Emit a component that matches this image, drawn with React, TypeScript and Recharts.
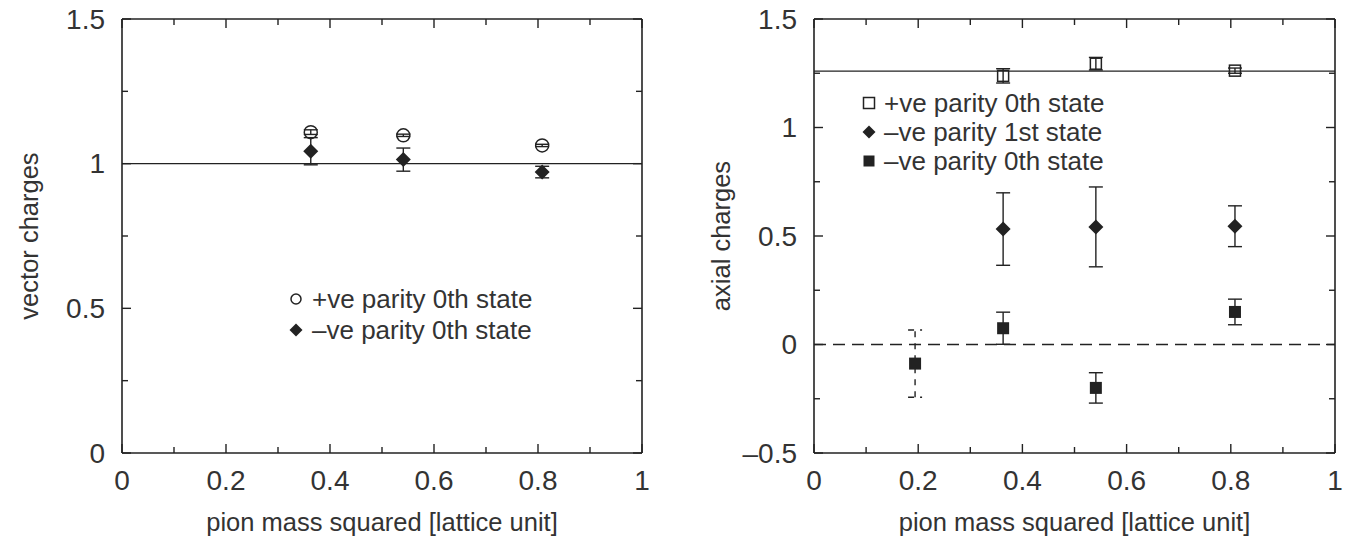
import React from 'react';
import {
  ScatterChart,
  Scatter,
  XAxis,
  YAxis,
  ErrorBar,
  ReferenceLine,
  Legend,
  Label,
} from 'recharts';

const FONT = '"Liberation Sans", Arial, Helvetica, sans-serif';
const INK = '#222';
const TEXT = '#333';

// shared x axis
const xTicks = [0, 0.1, 0.2, 0.3, 0.4, 0.5, 0.6, 0.7, 0.8, 0.9, 1];
const yTicksVector = [0, 0.25, 0.5, 0.75, 1, 1.25, 1.5];
const yTicksAxial = [-0.5, -0.25, 0, 0.25, 0.5, 0.75, 1, 1.25, 1.5];

// left panel: vector charges
const vecPosX = [0.363, 0.541, 0.808];
const vecPosY = [1.109, 1.098, 1.063];
const vecPosErr = [0.008, 0.004, 0.004];
const vecNegX = [0.363, 0.541, 0.808];
const vecNegY = [1.043, 1.014, 0.971];
const vecNegErr = [0.047, 0.04, 0.02];
const vectorRef = 1;

// right panel: axial charges
const axPosX = [0.363, 0.541, 0.808];
const axPosY = [1.238, 1.294, 1.262];
const axPosErr = [0.033, 0.029, 0.012];
const axNeg1X = [0.363, 0.541, 0.808];
const axNeg1Y = [0.532, 0.542, 0.545];
const axNeg1Err = [0.167, 0.184, 0.094];
// first point of the -ve 0th state has a dashed error bar
const axNeg0DashX = [0.194];
const axNeg0DashY = [-0.088];
const axNeg0DashErr = [0.155];
const axNeg0X = [0.363, 0.541, 0.808];
const axNeg0Y = [0.075, -0.2, 0.15];
const axNeg0Err = [0.074, 0.07, 0.059];
const axialRef = 1.26;
const axialZero = 0;

const vectorLegend = [
  { label: '+ve parity 0th state', symbol: 'circle' },
  { label: '–ve parity 0th state', symbol: 'diamond' },
];
const axialLegend = [
  { label: '+ve parity 0th state', symbol: 'openSquare' },
  { label: '–ve parity 1st state', symbol: 'diamond' },
  { label: '–ve parity 0th state', symbol: 'square' },
];

const toPoints = (xs: number[], ys: number[], errs: number[]) =>
  xs.map((x, i) => ({ x, y: ys[i], err: errs[i] }));

const fmt = (v: number) => (v < 0 ? '–' + Math.abs(v) : String(v));

const Symbol = ({ kind, cx, cy, small = false }: any) => {
  if (kind === 'circle') {
    return <circle cx={cx} cy={cy} r={small ? 5 : 6.5} fill="none" stroke={INK} strokeWidth={1.5} />;
  }
  if (kind === 'diamond') {
    const s = small ? 6.5 : 7.5;
    return (
      <polygon
        points={`${cx},${cy - s} ${cx + s},${cy} ${cx},${cy + s} ${cx - s},${cy}`}
        fill={INK}
      />
    );
  }
  if (kind === 'openSquare') {
    const h = 5.5;
    return <rect x={cx - h} y={cy - h} width={2 * h} height={2 * h} fill="none" stroke={INK} strokeWidth={1.5} />;
  }
  const h = small ? 5.5 : 6;
  return <rect x={cx - h} y={cy - h} width={2 * h} height={2 * h} fill={INK} />;
};

const shapeOf = (kind: string) => (props: any) => <Symbol kind={kind} cx={props.cx} cy={props.cy} />;

const makeXTick = (plotTop: number) => (props: any) => {
  const { x, y, payload } = props;
  const v = payload.value;
  const major = Math.abs(v * 5 - Math.round(v * 5)) < 1e-6;
  const len = major ? 9 : 6;
  return (
    <g>
      <line x1={x} y1={y} x2={x} y2={y - len} stroke={INK} strokeWidth={1.4} />
      <line x1={x} y1={plotTop} x2={x} y2={plotTop + len} stroke={INK} strokeWidth={1.4} />
      {major && (
        <text x={x} y={y + 27} textAnchor="middle" dominantBaseline="central" fontSize={28} fontFamily={FONT} fill={TEXT}>
          {fmt(v)}
        </text>
      )}
    </g>
  );
};

const makeYTick = (plotRight: number) => (props: any) => {
  const { x, y, payload } = props;
  const v = payload.value;
  const major = Math.abs(v * 2 - Math.round(v * 2)) < 1e-6;
  const len = major ? 9 : 6;
  return (
    <g>
      <line x1={x} y1={y} x2={x + len} y2={y} stroke={INK} strokeWidth={1.4} />
      <line x1={plotRight} y1={y} x2={plotRight - len} y2={y} stroke={INK} strokeWidth={1.4} />
      {major && (
        <text x={x - 17} y={y} textAnchor="end" dominantBaseline="central" fontSize={28} fontFamily={FONT} fill={TEXT}>
          {fmt(v)}
        </text>
      )}
    </g>
  );
};

const xTitle = (text: string) => (props: any) => {
  const vb = props.viewBox;
  return (
    <text x={vb.x + vb.width / 2} y={vb.y + 69} textAnchor="middle" dominantBaseline="central" fontSize={25.5} fontFamily={FONT} fill={TEXT}>
      {text}
    </text>
  );
};

const yTitle = (text: string) => (props: any) => {
  const vb = props.viewBox;
  const cx = vb.x + vb.width - 93;
  const cy = vb.y + vb.height / 2;
  return (
    <text x={cx} y={cy} transform={`rotate(-90, ${cx}, ${cy})`} textAnchor="middle" dominantBaseline="central" fontSize={25.5} fontFamily={FONT} fill={TEXT}>
      {text}
    </text>
  );
};

const LegendBox = ({ items, rowH, gap }: any) => (
  <div style={{ fontFamily: FONT, fontSize: 26, color: TEXT, whiteSpace: 'nowrap' }}>
    {items.map((it: any) => (
      <div key={it.label} style={{ display: 'flex', alignItems: 'center', height: rowH }}>
        <svg width={20} height={20} style={{ marginRight: gap, flex: 'none' }}>
          <Symbol kind={it.symbol} cx={10} cy={10} small />
        </svg>
        <span style={{ lineHeight: 1 }}>{it.label}</span>
      </div>
    ))}
  </div>
);

const PLOT_TOP = 19;
const AXIS_W = 60;
const AXIS_H = 60;

export default function App() {
  const leftW = 681;
  const rightW = 682;
  const leftMargin = { top: PLOT_TOP, right: 39, bottom: 25, left: 122 - AXIS_W };
  const rightMargin = { top: PLOT_TOP, right: 28, bottom: 25, left: 133 - AXIS_W };

  return (
    <div style={{ position: 'absolute', left: 0, top: 0, width: 1363, height: 538, background: '#fff' }}>
      <div style={{ position: 'absolute', left: 0, top: 0 }}>
        <ScatterChart width={leftW} height={538} margin={leftMargin}>
          <XAxis
            type="number"
            dataKey="x"
            domain={[0, 1]}
            ticks={xTicks}
            interval={0}
            allowDataOverflow
            height={AXIS_H}
            tickSize={0}
            tickMargin={0}
            tickLine={false}
            axisLine={{ stroke: INK, strokeWidth: 1.6 }}
            tick={makeXTick(PLOT_TOP)}
          >
            <Label content={xTitle('pion mass squared [lattice unit]')} />
          </XAxis>
          <YAxis
            type="number"
            dataKey="y"
            domain={[0, 1.5]}
            ticks={yTicksVector}
            interval={0}
            allowDataOverflow
            width={AXIS_W}
            tickSize={0}
            tickMargin={0}
            tickLine={false}
            axisLine={{ stroke: INK, strokeWidth: 1.6 }}
            tick={makeYTick(leftW - leftMargin.right)}
          >
            <Label content={yTitle('vector charges')} />
          </YAxis>
          <ReferenceLine y={1.5} stroke={INK} strokeWidth={1.6} />
          <ReferenceLine x={1} stroke={INK} strokeWidth={1.6} />
          <ReferenceLine y={vectorRef} stroke={INK} strokeWidth={1.4} />
          <Scatter name="+ve parity 0th state" data={toPoints(vecPosX, vecPosY, vecPosErr)} shape={shapeOf('circle')} isAnimationActive={false}>
            <ErrorBar dataKey="err" direction="y" width={7} stroke={INK} strokeWidth={1.4} />
          </Scatter>
          <Scatter name="–ve parity 0th state" data={toPoints(vecNegX, vecNegY, vecNegErr)} shape={shapeOf('diamond')} isAnimationActive={false}>
            <ErrorBar dataKey="err" direction="y" width={7} stroke={INK} strokeWidth={1.4} />
          </Scatter>
          <Legend
            layout="vertical"
            align="center"
            verticalAlign="middle"
            wrapperStyle={{ left: 286, top: 283.5, width: 320 }}
            content={() => <LegendBox items={vectorLegend} rowH={31} gap={6} />}
          />
        </ScatterChart>
      </div>
      <div style={{ position: 'absolute', left: leftW, top: 0 }}>
        <ScatterChart width={rightW} height={538} margin={rightMargin}>
          <XAxis
            type="number"
            dataKey="x"
            domain={[0, 1]}
            ticks={xTicks}
            interval={0}
            allowDataOverflow
            height={AXIS_H}
            tickSize={0}
            tickMargin={0}
            tickLine={false}
            axisLine={{ stroke: INK, strokeWidth: 1.6 }}
            tick={makeXTick(PLOT_TOP)}
          >
            <Label content={xTitle('pion mass squared [lattice unit]')} />
          </XAxis>
          <YAxis
            type="number"
            dataKey="y"
            domain={[-0.5, 1.5]}
            ticks={yTicksAxial}
            interval={0}
            allowDataOverflow
            width={AXIS_W}
            tickSize={0}
            tickMargin={0}
            tickLine={false}
            axisLine={{ stroke: INK, strokeWidth: 1.6 }}
            tick={makeYTick(rightW - rightMargin.right)}
          >
            <Label content={yTitle('axial charges')} />
          </YAxis>
          <ReferenceLine y={1.5} stroke={INK} strokeWidth={1.6} />
          <ReferenceLine x={1} stroke={INK} strokeWidth={1.6} />
          <ReferenceLine y={axialRef} stroke={INK} strokeWidth={1.4} />
          <ReferenceLine y={axialZero} stroke={INK} strokeWidth={1.4} strokeDasharray="12 7" />
          <Scatter name="+ve parity 0th state" data={toPoints(axPosX, axPosY, axPosErr)} shape={shapeOf('openSquare')} isAnimationActive={false}>
            <ErrorBar dataKey="err" direction="y" width={7} stroke={INK} strokeWidth={1.4} />
          </Scatter>
          <Scatter name="–ve parity 1st state" data={toPoints(axNeg1X, axNeg1Y, axNeg1Err)} shape={shapeOf('diamond')} isAnimationActive={false}>
            <ErrorBar dataKey="err" direction="y" width={7} stroke={INK} strokeWidth={1.4} />
          </Scatter>
          <Scatter name="–ve parity 0th state" data={toPoints(axNeg0X, axNeg0Y, axNeg0Err)} shape={shapeOf('square')} isAnimationActive={false}>
            <ErrorBar dataKey="err" direction="y" width={7} stroke={INK} strokeWidth={1.4} />
          </Scatter>
          <Scatter name="–ve parity 0th state (light)" data={toPoints(axNeg0DashX, axNeg0DashY, axNeg0DashErr)} shape={shapeOf('square')} isAnimationActive={false}>
            <ErrorBar dataKey="err" direction="y" width={7} stroke={INK} strokeWidth={1.4} strokeDasharray="6 6" />
          </Scatter>
          <Legend
            layout="vertical"
            align="center"
            verticalAlign="middle"
            wrapperStyle={{ left: 178, top: 88.5, width: 320 }}
            content={() => <LegendBox items={axialLegend} rowH={29} gap={5} />}
          />
        </ScatterChart>
      </div>
    </div>
  );
}
